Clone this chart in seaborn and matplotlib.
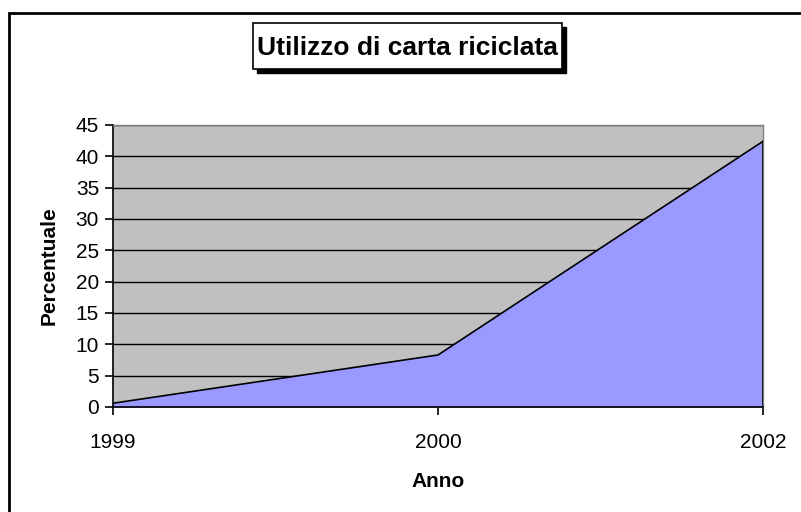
import matplotlib
matplotlib.use("Agg")
import seaborn as sns
import pandas as pd
from matplotlib import pyplot as plt
from matplotlib.patches import Rectangle

''' Dati '''
anni = ["1999", "2000", "2002"]
percentuale = [0.6, 8.3, 42.4]

df = pd.DataFrame({"pos": range(len(anni)), "Anno": anni, "Percentuale": percentuale})

sns.set_style("white")
plt.rcParams['font.family'] = ['Liberation Sans', 'DejaVu Sans']
plt.rcParams['text.color'] = "black"
plt.rcParams['axes.labelcolor'] = "black"
plt.rcParams['xtick.color'] = "black"
plt.rcParams['ytick.color'] = "black"

fig = plt.figure(figsize=(8.01, 5.12), dpi=100)
ax = fig.add_axes([113 / 801, 1 - 407 / 512, 650 / 801, 282 / 512])
ax.set_facecolor("#C0C0C0")

''' Area '''
ax.fill_between(df["pos"], df["Percentuale"], color="#9999FF", zorder=2)
sns.lineplot(data=df, x="pos", y="Percentuale", color="black", linewidth=1.2, ax=ax, zorder=3)
ax.plot([df["pos"].iloc[-1]] * 2, [0, df["Percentuale"].iloc[-1]], color="black", linewidth=1.2, zorder=3)

ax.set_xlim(0, len(anni) - 1)
ax.set_ylim(0, 45)
ax.set_yticks(range(0, 46, 5))
ax.set_xticks(df["pos"])
ax.set_xticklabels(anni)
ax.yaxis.grid(True, color="black", linewidth=1.0, zorder=1)
ax.set_axisbelow(True)

for side in ["left", "bottom"]:
       ax.spines[side].set_color("black")
       ax.spines[side].set_linewidth(1.2)
for side in ["top", "right"]:
       ax.spines[side].set_color("#808080")
       ax.spines[side].set_linewidth(1.0)
ax.spines["bottom"].set_zorder(4)

ax.tick_params(axis="both", direction="out", length=6, width=1.2, color="black", labelsize=15, bottom=True, left=True)
ax.tick_params(axis="x", pad=13)
ax.tick_params(axis="y", pad=4)

ax.set_xlabel("Anno", fontsize=15, fontweight="bold", labelpad=14)
ax.set_ylabel("Percentuale", fontsize=15, fontweight="bold", labelpad=12)

''' Titolo con ombra '''
fig.patches.append(Rectangle((257 / 801, 1 - 73 / 512), 309 / 801, 46 / 512, transform=fig.transFigure,
                             facecolor="black", edgecolor="black", zorder=5))
fig.patches.append(Rectangle((253 / 801, 1 - 69 / 512), 309 / 801, 46 / 512, transform=fig.transFigure,
                             facecolor="white", edgecolor="black", linewidth=1.2, zorder=6))
fig.text(407 / 801, 1 - 48 / 512, "Utilizzo di carta riciclata", ha="center", va="center",
         fontsize=19, fontweight="bold", zorder=7)

''' Cornice esterna '''
fig.patches.append(Rectangle((9 / 801, -0.1), 1.2, 1 - 13 / 512 + 0.1, transform=fig.transFigure,
                             facecolor="none", edgecolor="black", linewidth=2))

fig.savefig("out.png", dpi=100)
